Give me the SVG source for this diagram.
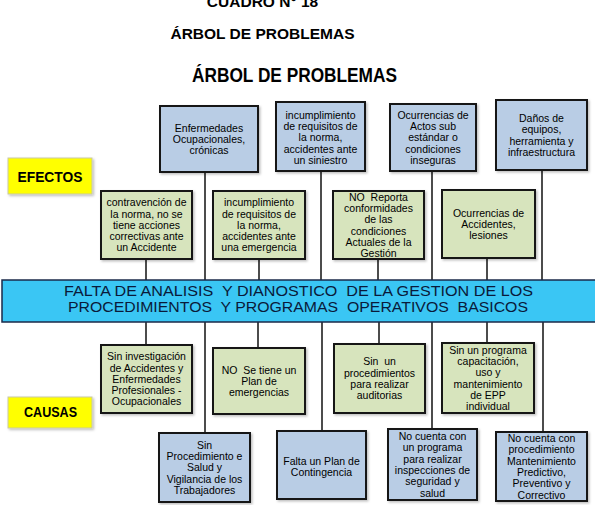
<svg xmlns="http://www.w3.org/2000/svg" width="595" height="505" viewBox="0 0 595 505">
<style>
  .t { font-family: "Liberation Sans", Arial, sans-serif; fill: #000; }
  .title { font-weight: bold; font-size: 15.5px; text-anchor: middle; }
  .big { font-weight: bold; font-size: 21px; text-anchor: middle; }
  .lbl { font-size: 10.5px; text-anchor: middle; }
  .tag { font-weight: bold; font-size: 15px; text-anchor: middle; }
  .bar { font-size: 14.5px; text-anchor: middle; fill: #0a1a3a; }
  .blue { fill: #b9cde5; stroke: #151515; stroke-width: 2; filter: url(#sh); }
  .green { fill: #d7e4bd; stroke: #151515; stroke-width: 2; filter: url(#sh); }
  .yellow { fill: #ffff00; stroke: #c9c9a3; stroke-width: 1; filter: url(#sh); }
  .con line { stroke: #111; stroke-width: 1.5; }
</style>
<defs>
  <filter id="sh" x="-10%" y="-10%" width="130%" height="130%">
    <feDropShadow dx="1.5" dy="1.5" stdDeviation="1" flood-color="#000" flood-opacity="0.25"/>
  </filter>
</defs>
<rect width="595" height="505" fill="#fff"/>

<g id="titles">
  <text class="t title" x="262.5" y="7">CUADRO N° 18</text>
  <text class="t title" x="262.5" y="39">ÁRBOL DE PROBLEMAS</text>
  <text class="t big" x="294.5" y="82" textLength="205" lengthAdjust="spacingAndGlyphs">ÁRBOL DE PROBLEMAS</text>
</g>

<g id="connectors" class="con">
  <line x1="205" y1="172" x2="205" y2="280"/>
  <line x1="321" y1="171" x2="321" y2="280"/>
  <line x1="432" y1="171" x2="432" y2="280"/>
  <line x1="542" y1="170" x2="542" y2="280"/>
  <line x1="146" y1="259" x2="146" y2="280"/>
  <line x1="259" y1="259" x2="259" y2="280"/>
  <line x1="378" y1="259" x2="378" y2="280"/>
  <line x1="487" y1="258" x2="487" y2="280"/>
  <line x1="146" y1="322" x2="146" y2="345"/>
  <line x1="258" y1="322" x2="258" y2="348"/>
  <line x1="379" y1="322" x2="379" y2="344"/>
  <line x1="487" y1="322" x2="487" y2="343"/>
  <line x1="205" y1="322" x2="205" y2="433"/>
  <line x1="322" y1="322" x2="322" y2="431"/>
  <line x1="432" y1="322" x2="432" y2="429"/>
  <line x1="543" y1="322" x2="543" y2="432"/>
</g>

<g id="efectos">
  <rect class="yellow" x="8" y="158" width="84" height="36"/>
  <text class="t tag" x="50" y="182" textLength="65" lengthAdjust="spacingAndGlyphs">EFECTOS</text>
</g>
<g id="causas">
  <rect class="yellow" x="8" y="397" width="84" height="31"/>
  <text class="t tag" x="50.5" y="417" textLength="53" lengthAdjust="spacingAndGlyphs">CAUSAS</text>
</g>

<g id="e1">
  <rect class="blue" x="160" y="106" width="98" height="66"/>
  <text class="t lbl"><tspan x="209" y="131.5">Enfermedades</tspan><tspan x="209" y="142.8">Ocupacionales,</tspan><tspan x="209" y="154.1">crónicas</tspan></text>
</g>
<g id="e2">
  <rect class="blue" x="276" y="102" width="89" height="69"/>
  <text class="t lbl"><tspan x="320.5" y="118.7">incumplimiento</tspan><tspan x="320.5" y="130">de requisitos de</tspan><tspan x="320.5" y="141.3">la norma,</tspan><tspan x="320.5" y="152.6">accidentes ante</tspan><tspan x="320.5" y="163.9">un siniestro</tspan></text>
</g>
<g id="e3">
  <rect class="blue" x="390" y="104" width="86" height="67"/>
  <text class="t lbl"><tspan x="433" y="118.7">Ocurrencias de</tspan><tspan x="433" y="130">Actos sub</tspan><tspan x="433" y="141.3">estándar o</tspan><tspan x="433" y="152.6">condiciones</tspan><tspan x="433" y="163.9">inseguras</tspan></text>
</g>
<g id="e4">
  <rect class="blue" x="496" y="100" width="91" height="70"/>
  <text class="t lbl"><tspan x="541.5" y="121.9">Daños de</tspan><tspan x="541.5" y="133.2">equipos,</tspan><tspan x="541.5" y="144.5">herramienta y</tspan><tspan x="541.5" y="155.8">infraestructura</tspan></text>
</g>

<g id="eA">
  <rect class="green" x="101" y="191" width="91" height="68"/>
  <text class="t lbl"><tspan x="146.5" y="206.2">contravención de</tspan><tspan x="146.5" y="217.5">la norma, no se</tspan><tspan x="146.5" y="228.8">tiene acciones</tspan><tspan x="146.5" y="240.1">correctivas ante</tspan><tspan x="146.5" y="251.4">un Accidente</tspan></text>
</g>
<g id="eB">
  <rect class="green" x="213" y="191" width="92" height="68"/>
  <text class="t lbl"><tspan x="259" y="206.2">incumplimiento</tspan><tspan x="259" y="217.5">de requisitos de</tspan><tspan x="259" y="228.8">la norma,</tspan><tspan x="259" y="240.1">accidentes ante</tspan><tspan x="259" y="251.4">una emergencia</tspan></text>
</g>
<g id="eC">
  <rect class="green" x="333" y="191" width="91" height="68"/>
  <text class="t lbl" xml:space="preserve"><tspan x="378.5" y="200.6">NO  Reporta</tspan><tspan x="378.5" y="211.9">conformidades</tspan><tspan x="378.5" y="223.2">de las</tspan><tspan x="378.5" y="234.5">condiciones</tspan><tspan x="378.5" y="245.8">Actuales de la</tspan><tspan x="378.5" y="257.1">Gestión</tspan></text>
</g>
<g id="eD">
  <rect class="green" x="442" y="190" width="93" height="68"/>
  <text class="t lbl"><tspan x="488.5" y="216.5">Ocurrencias de</tspan><tspan x="488.5" y="227.8">Accidentes,</tspan><tspan x="488.5" y="239.1">lesiones</tspan></text>
</g>

<g id="problema">
  <rect x="2" y="280" width="594" height="42" fill="#3ac6f4" stroke="#1b2a4a" stroke-width="1.5"/>
  <text class="t bar" x="298.5" y="296" textLength="469" lengthAdjust="spacingAndGlyphs" xml:space="preserve">FALTA DE ANALISIS  Y DIANOSTICO  DE LA GESTION DE LOS</text>
  <text class="t bar" x="298" y="312" textLength="460" lengthAdjust="spacingAndGlyphs" xml:space="preserve">PROCEDIMIENTOS  Y PROGRAMAS  OPERATIVOS  BASICOS</text>
</g>

<g id="cE">
  <rect class="green" x="101" y="345" width="91" height="68"/>
  <text class="t lbl"><tspan x="146.5" y="360.2">Sin investigación</tspan><tspan x="146.5" y="371.5">de Accidentes y</tspan><tspan x="146.5" y="382.8">Enfermedades</tspan><tspan x="146.5" y="394.1">Profesionales -</tspan><tspan x="146.5" y="405.4">Ocupacionales</tspan></text>
</g>
<g id="cF">
  <rect class="green" x="213" y="348" width="92" height="66"/>
  <text class="t lbl" xml:space="preserve"><tspan x="259" y="373.5">NO  Se tiene un</tspan><tspan x="259" y="384.8">Plan de</tspan><tspan x="259" y="396.1">emergencias</tspan></text>
</g>
<g id="cG">
  <rect class="green" x="334" y="344" width="91" height="69"/>
  <text class="t lbl" xml:space="preserve"><tspan x="379.5" y="365.4">Sin  un</tspan><tspan x="379.5" y="376.7">procedimientos</tspan><tspan x="379.5" y="388">para realizar</tspan><tspan x="379.5" y="399.3">auditorias</tspan></text>
</g>
<g id="cH">
  <rect class="green" x="442" y="343" width="92" height="70"/>
  <text class="t lbl"><tspan x="488" y="353.6">Sin un programa</tspan><tspan x="488" y="364.9">capacitación,</tspan><tspan x="488" y="376.2">uso y</tspan><tspan x="488" y="387.5">mantenimiento</tspan><tspan x="488" y="398.8">de EPP</tspan><tspan x="488" y="410.1">individual</tspan></text>
</g>

<g id="cI">
  <rect class="blue" x="159" y="433" width="91" height="69"/>
  <text class="t lbl"><tspan x="204.5" y="448.7">Sin</tspan><tspan x="204.5" y="460">Procedimiento e</tspan><tspan x="204.5" y="471.3">Salud y</tspan><tspan x="204.5" y="482.6">Vigilancia de los</tspan><tspan x="204.5" y="493.9">Trabajadores</tspan></text>
</g>
<g id="cJ">
  <rect class="blue" x="277" y="431" width="89" height="68"/>
  <text class="t lbl"><tspan x="321.5" y="465">Falta un Plan de</tspan><tspan x="321.5" y="476.3">Contingencia</tspan></text>
</g>
<g id="cK">
  <rect class="blue" x="388" y="429" width="89" height="71"/>
  <text class="t lbl"><tspan x="432.5" y="440.1">No cuenta con</tspan><tspan x="432.5" y="451.4">un programa</tspan><tspan x="432.5" y="462.7">para realizar</tspan><tspan x="432.5" y="474">inspecciones de</tspan><tspan x="432.5" y="485.3">seguridad y</tspan><tspan x="432.5" y="496.6">salud</tspan></text>
</g>
<g id="cL">
  <rect class="blue" x="496" y="432" width="91" height="69"/>
  <text class="t lbl"><tspan x="541.5" y="442.1">No cuenta con</tspan><tspan x="541.5" y="453.4">procedimiento</tspan><tspan x="541.5" y="464.7">Mantenimiento</tspan><tspan x="541.5" y="476">Predictivo,</tspan><tspan x="541.5" y="487.3">Preventivo y</tspan><tspan x="541.5" y="498.6">Correctivo</tspan></text>
</g>
</svg>
